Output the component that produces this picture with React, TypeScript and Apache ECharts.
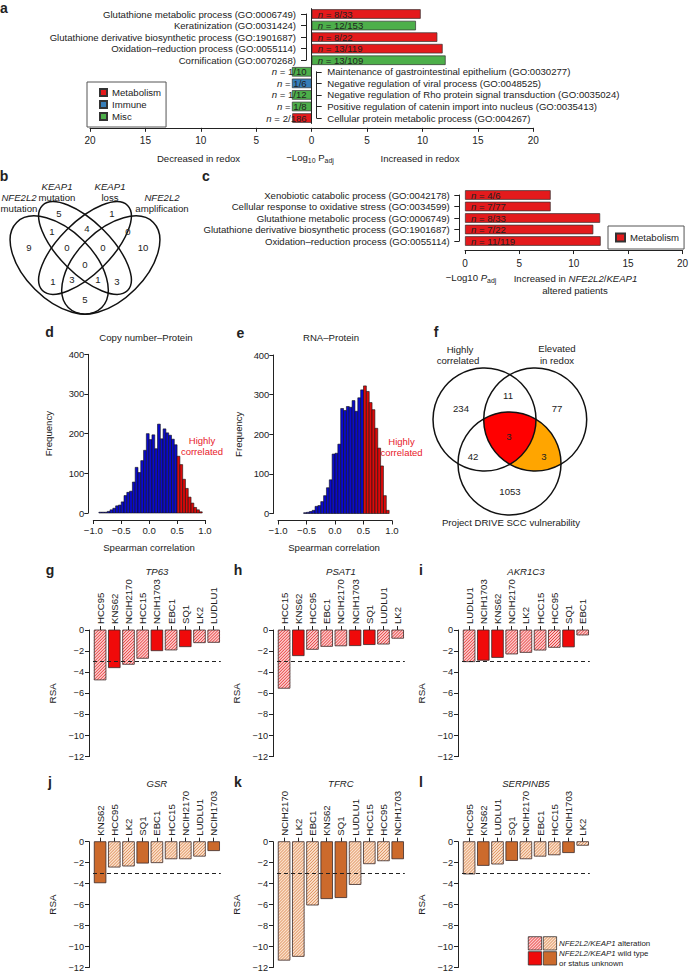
import React, { useEffect, useRef } from 'react';
import * as echarts from 'echarts';

const FONT = '"Liberation Sans", Arial, Helvetica, sans-serif';
const INK = '#222222';

// ---------- Panel a ----------
const aUpTerms = [
  'Glutathione metabolic process (GO:0006749)',
  'Keratinization (GO:0031424)',
  'Glutathione derivative biosynthetic process (GO:1901687)',
  'Oxidation\u2013reduction process (GO:0055114)',
  'Cornification (GO:0070268)',
];
const aUpValues = [9.84, 9.41, 11.34, 11.82, 12.09];
const aUpCounts = ['8/33', '12/153', '8/22', '13/119', '13/109'];
const aUpClass = ['Metabolism', 'Misc', 'Metabolism', 'Metabolism', 'Misc'];
const aDownTerms = [
  'Maintenance of gastrointestinal epithelium (GO:0030277)',
  'Negative regulation of viral process (GO:0048525)',
  'Negative regulation of Rho protein signal transduction (GO:0035024)',
  'Positive regulation of catenin import into nucleus (GO:0035413)',
  'Cellular protein metabolic process (GO:004267)',
];
const aDownValues = [-1.78, -1.78, -1.78, -1.78, -1.75];
const aDownCounts = ['1/10', '1/6', '1/12', '1/8', '2/186'];
const aDownClass = ['Misc', 'Immune', 'Misc', 'Misc', 'Metabolism'];
const goClasses = ['Metabolism', 'Immune', 'Misc'];
const goColors = ['#E41A1C', '#377EB8', '#4DAF4A'];

// ---------- Panel b ----------
const vennBSetGenes = ['NFE2L2', 'KEAP1', 'KEAP1', 'NFE2L2'];
const vennBSetKinds = ['mutation', 'mutation', 'loss', 'amplification'];
const vennBCounts = [9, 5, 1, 10, 1, 4, 0, 0, 0, 0, 1, 3, 1, 3, 5];

// ---------- Panel c ----------
const cTerms = [
  'Xenobiotic catabolic process (GO:0042178)',
  'Cellular response to oxidative stress (GO:0034599)',
  'Glutathione metabolic process (GO:0006749)',
  'Glutathione derivative biosynthetic process (GO:1901687)',
  'Oxidation\u2013reduction process (GO:0055114)',
];
const cValues = [7.88, 7.88, 12.43, 11.8, 12.48];
const cCounts = ['4/6', '7/77', '8/33', '7/22', '11/119'];

// ---------- Panels d, e ----------
const histBinWidth = 0.05;
const highCorrThreshold = 0.5;
const dBinStarts = [-0.9, -0.85, -0.8, -0.75, -0.7, -0.65, -0.6, -0.55, -0.5, -0.45, -0.4, -0.35, -0.3, -0.25, -0.2, -0.15, -0.1, -0.05, 0, 0.05, 0.1, 0.15, 0.2, 0.25, 0.3, 0.35, 0.4, 0.45, 0.5, 0.55, 0.6, 0.65, 0.7, 0.75, 0.8, 0.85, 0.9];
const dCounts = [2, 2, 2, 4, 8, 12, 18, 20, 28, 44, 52, 55, 78, 115, 102, 132, 158, 200, 185, 197, 162, 224, 187, 212, 202, 196, 186, 172, 143, 122, 85, 62, 40, 25, 14, 8, 3];
const eBinStarts = [-0.55, -0.5, -0.45, -0.4, -0.35, -0.3, -0.25, -0.2, -0.15, -0.1, -0.05, 0, 0.05, 0.1, 0.15, 0.2, 0.25, 0.3, 0.35, 0.4, 0.45, 0.5, 0.55, 0.6, 0.65, 0.7, 0.75, 0.8, 0.85, 0.9];
const eCounts = [2, 3, 5, 8, 18, 20, 30, 45, 65, 85, 150, 152, 175, 265, 260, 270, 268, 285, 258, 292, 312, 322, 308, 280, 262, 215, 165, 120, 45, 8];

// ---------- Panel f ----------
const vennFSetLines = [['Highly', 'correlated'], ['Elevated', 'in redox'], ['Project DRIVE SCC vulnerability']];
const vennFCounts = [234, 11, 77, 3, 42, 3, 1053];

// ---------- Panels g-l ----------
const alteredLines = ['HCC95', 'NCIH2170', 'HCC15', 'EBC1', 'LK2', 'LUDLU1'];
const rsaThreshold = -3;
const gLines = ['HCC95', 'KNS62', 'NCIH2170', 'HCC15', 'NCIH1703', 'EBC1', 'SQ1', 'LK2', 'LUDLU1'];
const gRSA = [-4.73, -3.57, -3.25, -2.68, -1.96, -1.89, -1.58, -1.2, -1.17];
const hLines = ['HCC15', 'KNS62', 'HCC95', 'EBC1', 'NCIH2170', 'NCIH1703', 'SQ1', 'LUDLU1', 'LK2'];
const hRSA = [-5.52, -2.43, -1.83, -1.55, -1.5, -1.48, -1.38, -1.33, -0.78];
const iLines = ['LUDLU1', 'NCIH1703', 'KNS62', 'NCIH2170', 'LK2', 'HCC15', 'HCC95', 'SQ1', 'EBC1'];
const iRSA = [-3.0, -2.87, -2.6, -2.27, -2.12, -1.9, -1.64, -1.6, -0.47];
const jLines = ['KNS62', 'HCC95', 'LK2', 'SQ1', 'EBC1', 'HCC15', 'NCIH2170', 'LUDLU1', 'NCIH1703'];
const jRSA = [-3.92, -2.42, -2.32, -2.04, -2.0, -1.63, -1.63, -1.38, -0.85];
const kLines = ['NCIH2170', 'LK2', 'EBC1', 'KNS62', 'SQ1', 'LUDLU1', 'HCC15', 'HCC95', 'NCIH1703'];
const kRSA = [-11.3, -10.94, -6.04, -5.43, -5.33, -4.08, -2.1, -1.82, -1.63];
const lLines = ['HCC95', 'KNS62', 'LUDLU1', 'SQ1', 'NCIH2170', 'EBC1', 'HCC15', 'NCIH1703', 'LK2'];
const lRSA = [-3.08, -2.26, -2.13, -1.79, -1.63, -1.38, -1.25, -1.04, -0.34];

// ---------- styles ----------
const FAM: any = {
  red: { solid: '#F00A0A', hatchBg: '#FBCACA', hatchLine: '#E42A2A' },
  orange: { solid: '#CC6A2C', hatchBg: '#FBE0CB', hatchLine: '#D8844C' },
};
const HIST_BLUE = '#0A0ACC';
const HIST_RED = '#DD0A0A';
const HATCH_STEP = 3;
const FS = 9.6;

function minusFmt(v: number, digits = 0) {
  const s = Math.abs(v).toFixed(digits);
  return v < 0 ? '\u2212' + s : s;
}
const axisLine = { show: true, onZero: false, lineStyle: { color: INK, width: 1 } };
const axisTick = (length: number) => ({ show: true, length, interval: 0, lineStyle: { color: INK, width: 1 } });
const lbl = (extra: any = {}) => ({ color: INK, fontSize: FS, fontFamily: FONT, ...extra });

function txt(x: number, y: number, text: string, o: any = {}) {
  const align = o.align || 'center';
  const valign = o.valign || 'middle';
  return {
    type: 'text', x, y, rotation: o.rotation || 0, silent: true,
    style: {
      text, fill: o.color || INK, fontSize: o.size || FS, fontFamily: FONT,
      fontStyle: o.italic ? 'italic' : 'normal', fontWeight: o.bold ? 'bold' : 'normal',
      align, verticalAlign: valign, textAlign: align, textVerticalAlign: valign,
      rich: o.rich,
    },
  };
}
const richDefs = (size: number) => ({
  it: { fontStyle: 'italic', fontSize: size, fontFamily: FONT, fill: INK, color: INK },
  sub: { fontSize: size * 0.72, fontFamily: FONT, padding: [6, 0, 0, 0], fill: INK, color: INK },
  itsub: { fontSize: size, fontStyle: 'italic', fontFamily: FONT, fill: INK, color: INK },
});

type Circ = { x: number; y: number; r: number };
function intersectionPolygon(cs: Circ[]): number[][] {
  const pts: number[][] = [];
  const N = 900;
  cs.forEach((c) => {
    for (let k = 0; k < N; k++) {
      const t = (2 * Math.PI * k) / N;
      const p = [c.x + c.r * Math.cos(t), c.y + c.r * Math.sin(t)];
      if (cs.every((o) => Math.hypot(p[0] - o.x, p[1] - o.y) <= o.r + 1e-6)) pts.push(p);
    }
  });
  const mx = pts.reduce((s, p) => s + p[0], 0) / pts.length;
  const my = pts.reduce((s, p) => s + p[1], 0) / pts.length;
  pts.sort((p, q) => Math.atan2(p[1] - my, p[0] - mx) - Math.atan2(q[1] - my, q[0] - mx));
  return pts;
}

// diagonal "////" hatch lines clipped to a rectangle
function hatchLines(x0: number, y0: number, w: number, h: number, color: string) {
  const out: any[] = [];
  for (let t = HATCH_STEP / 2; t < w + h; t += HATCH_STEP) {
    const u1 = Math.max(0, t - h);
    const u2 = Math.min(w, t);
    if (u2 <= u1) continue;
    out.push({
      type: 'line',
      shape: { x1: x0 + u1, y1: y0 + (t - u1), x2: x0 + u2, y2: y0 + (t - u2) },
      style: { stroke: color, lineWidth: 0.9 },
      silent: true,
    });
  }
  return out;
}

function hatchSwatch(x0: number, y0: number, s: number, bg: string, line: string) {
  return [
    { type: 'rect', shape: { x: x0, y: y0, width: s, height: s }, style: { fill: bg, stroke: 'none' }, silent: true },
    ...hatchLines(x0, y0, s, s, line),
    { type: 'rect', shape: { x: x0, y: y0, width: s, height: s }, style: { fill: 'none', stroke: '#333', lineWidth: 0.8 }, silent: true },
  ];
}

function buildOption() {
  const grids: any[] = [];
  const xAxes: any[] = [];
  const yAxes: any[] = [];
  const series: any[] = [];
  const graphic: any[] = [];

  // ---- a: bars grid (0)
  const aTerms = [...aUpTerms, ...aDownTerms];
  const aValues = [...aUpValues, ...aDownValues];
  const aCounts = [...aUpCounts, ...aDownCounts];
  const aClass = [...aUpClass, ...aDownClass];
  grids.push({ left: 90, top: 8.22, width: 443.3, height: 115.6 });
  xAxes.push({
    gridIndex: 0, type: 'value', min: -20, max: 20, interval: 5, offset: 4,
    axisLine, axisTick: axisTick(4), splitLine: { show: false },
    axisLabel: lbl({ margin: 8, fontSize: 10, formatter: (v: number) => String(Math.abs(v)) }),
  });
  yAxes.push({ gridIndex: 0, type: 'category', data: aTerms, inverse: true, show: false });
  const nLabel = (counts: string[], fs: number) => ({
    show: true, fontSize: fs, color: INK, fontFamily: FONT,
    formatter: (p: any) => `{i|n} = ${counts[p.dataIndex]}`,
    rich: { i: { fontStyle: 'italic', fontSize: fs, fontFamily: FONT, color: INK } },
  });
  goClasses.forEach((cls, ci) => {
    series.push({
      name: cls, type: 'bar', xAxisIndex: 0, yAxisIndex: 0, barWidth: 9.5, barGap: '-100%',
      itemStyle: { color: goColors[ci], borderColor: '#333', borderWidth: 0.7 },
      label: nLabel(aCounts, FS),
      data: aValues.map((v, i) =>
        aClass[i] === cls
          ? { value: v, label: { position: v >= 0 ? 'insideLeft' : 'insideRight', distance: v >= 0 ? 6 : 5 } }
          : '-'
      ),
      markLine: ci === 0
        ? { silent: true, symbol: 'none', label: { show: false }, lineStyle: { color: INK, width: 1, type: 'solid' }, data: [{ xAxis: 0 }] }
        : undefined,
    });
  });

  // ---- a: bracket label grids (1, 2)
  grids.push({ left: 311.7, top: 14, width: 40, height: 46.24 });
  xAxes.push({ gridIndex: 1, type: 'value', min: 0, max: 1, show: false });
  yAxes.push({
    gridIndex: 1, type: 'category', data: aUpTerms, inverse: true, boundaryGap: false, position: 'left', offset: 5.7,
    axisLine, axisTick: axisTick(5), axisLabel: lbl({ margin: 10, interval: 0 }),
  });
  grids.push({ left: 90, top: 71.8, width: 221.7, height: 46.24 });
  xAxes.push({ gridIndex: 2, type: 'value', min: 0, max: 1, show: false });
  yAxes.push({
    gridIndex: 2, type: 'category', data: aDownTerms, inverse: true, boundaryGap: false, position: 'right', offset: 5,
    axisLine, axisTick: axisTick(5), axisLabel: lbl({ margin: 10.5, interval: 0 }),
  });

  // ---- c: bars grid (3) and label grid (4)
  grids.push({ left: 465, top: 189.25, width: 221.7, height: 57.5 });
  xAxes.push({
    gridIndex: 3, type: 'value', min: 0, max: 20, interval: 5, offset: 3.3,
    axisLine, axisTick: axisTick(4), splitLine: { show: false }, axisLabel: lbl({ margin: 8, fontSize: 10 }),
  });
  yAxes.push({ gridIndex: 3, type: 'category', data: cTerms, inverse: true, show: false });
  series.push({
    name: 'Metabolism', type: 'bar', xAxisIndex: 3, yAxisIndex: 3, barWidth: 9.5,
    itemStyle: { color: goColors[0], borderColor: '#333', borderWidth: 0.7 },
    label: { ...nLabel(cCounts, FS), position: 'insideLeft', distance: 6 },
    data: cValues,
  });
  grids.push({ left: 465, top: 195, width: 40, height: 46 });
  xAxes.push({ gridIndex: 4, type: 'value', min: 0, max: 1, show: false });
  yAxes.push({
    gridIndex: 4, type: 'category', data: cTerms, inverse: true, boundaryGap: false, position: 'left', offset: 5.7,
    axisLine, axisTick: axisTick(5), axisLabel: lbl({ margin: 9.5, interval: 0 }),
  });

  // ---- d, e histograms (5, 6)
  const hist = (gi: number, rect: any, yOffset: number, nameGap: number, starts: number[], counts: number[]) => {
    grids.push(rect);
    xAxes.push({
      gridIndex: gi, type: 'value', min: -1, max: 1, interval: 0.5, offset: 7,
      axisLine, axisTick: axisTick(4), splitLine: { show: false },
      axisLabel: lbl({ margin: 5, fontSize: 9.6, formatter: (v: number) => minusFmt(v, 1) }),
    });
    yAxes.push({
      gridIndex: gi, type: 'value', min: 0, max: 400, interval: 100, offset: yOffset,
      axisLine, axisTick: axisTick(4), splitLine: { show: false },
      axisLabel: lbl({ margin: 4, fontSize: 9.4 }),
      name: 'Frequency', nameLocation: 'middle', nameGap, nameRotate: 90, nameTextStyle: lbl({}),
    });
    series.push({
      type: 'custom', xAxisIndex: gi, yAxisIndex: gi,
      data: starts.map((s, i) => [s, counts[i]]),
      renderItem: (_p: any, api: any) => {
        const s = api.value(0);
        const v = api.value(1);
        const a = api.coord([s, v]);
        const b = api.coord([s + histBinWidth, 0]);
        return {
          type: 'rect',
          shape: { x: a[0], y: a[1], width: b[0] - a[0], height: b[1] - a[1] },
          style: { fill: s >= highCorrThreshold - 1e-9 ? HIST_RED : HIST_BLUE, stroke: '#111', lineWidth: 0.6 },
        };
      },
    });
  };
  hist(5, { left: 93.3, top: 354.3, width: 111.7, height: 158.7 }, 5, 35, dBinStarts, dCounts);
  hist(6, { left: 278, top: 355, width: 114, height: 158.5 }, 4.7, 30, eBinStarts, eCounts);

  // ---- g-l
  const rsaPanels = [
    { letter: 'g', gene: 'TP63', lines: gLines, values: gRSA, fam: 'red' },
    { letter: 'h', gene: 'PSAT1', lines: hLines, values: hRSA, fam: 'red' },
    { letter: 'i', gene: 'AKR1C3', lines: iLines, values: iRSA, fam: 'red' },
    { letter: 'j', gene: 'GSR', lines: jLines, values: jRSA, fam: 'orange' },
    { letter: 'k', gene: 'TFRC', lines: kLines, values: kRSA, fam: 'orange' },
    { letter: 'l', gene: 'SERPINB5', lines: lLines, values: lRSA, fam: 'orange' },
  ];
  const RSA_AXIS_X = [89, 273, 458];
  const RSA_TOP = [630, 841.7];
  const RSA_LETTER_X = [50, 238, 421];
  const RSA_TITLE_Y = [571, 783];
  rsaPanels.forEach((p, k) => {
    const gi = grids.length;
    const col = k % 3;
    const row = Math.floor(k / 3);
    const ax = RSA_AXIS_X[col];
    const top = RSA_TOP[row];
    grids.push({ left: ax + 4, top, width: 127.8, height: 126.6 });
    xAxes.push({
      gridIndex: gi, type: 'category', data: p.lines, position: 'top',
      axisLine: { show: false },
      axisTick: { show: true, alignWithLabel: true, length: 4, interval: 0, lineStyle: { color: INK } },
      axisLabel: lbl({ rotate: 90, margin: 6, interval: 0 }),
    });
    yAxes.push({
      gridIndex: gi, type: 'value', min: -12, max: 0, interval: 2, offset: 4,
      axisLine, axisTick: axisTick(4), splitLine: { show: false },
      axisLabel: lbl({ margin: 5, fontSize: 9.2, formatter: (v: number) => minusFmt(v) }),
      name: 'RSA', nameLocation: 'middle', nameGap: 32, nameRotate: 90, nameTextStyle: lbl({ fontSize: 9.8 }),
    });
    const fam = FAM[p.fam];
    series.push({
      type: 'custom', xAxisIndex: gi, yAxisIndex: gi,
      data: p.values.map((v, i) => [i, v, alteredLines.includes(p.lines[i]) ? 1 : 0]),
      renderItem: (_params: any, api: any) => {
        const idx = api.value(0);
        const v = api.value(1);
        const alt = api.value(2) === 1;
        const p0 = api.coord([idx, 0]);
        const p1 = api.coord([idx, v]);
        const bw = api.size([1, 0])[0] * 0.82;
        const x0 = p0[0] - bw / 2;
        const y0 = Math.min(p0[1], p1[1]);
        const h = Math.abs(p1[1] - p0[1]);
        const children: any[] = [
          { type: 'rect', shape: { x: x0, y: y0, width: bw, height: h }, style: { fill: alt ? fam.hatchBg : fam.solid } },
        ];
        if (alt) children.push(...hatchLines(x0, y0, bw, h, fam.hatchLine));
        children.push({ type: 'rect', shape: { x: x0, y: y0, width: bw, height: h }, style: { fill: 'none', stroke: '#3a2a2a', lineWidth: 0.8 } });
        return { type: 'group', children };
      },
    });
    series.push({
      type: 'line', xAxisIndex: gi, yAxisIndex: gi, data: [], silent: true,
      markLine: {
        silent: true, symbol: 'none', label: { show: false },
        lineStyle: { color: INK, width: 1, type: [4, 3] },
        data: [{ yAxis: rsaThreshold }],
      },
    });
    graphic.push(txt(RSA_LETTER_X[col], RSA_TITLE_Y[row] - 1, p.letter, { size: 14, bold: true }));
    graphic.push(txt(ax + 4 + 63.9, RSA_TITLE_Y[row], p.gene, { size: FS, italic: true }));
  });

  // ---- texts panel a
  graphic.push(txt(4, 8, 'a', { size: 14, bold: true }));
  graphic.push(txt(198.5, 158, 'Decreased in redox', { size: FS }));
  graphic.push(txt(420, 158, 'Increased in redox', { size: FS }));
  graphic.push(txt(310, 157, '\u2212Log{sub|10} P{sub|adj}', { size: FS, rich: richDefs(FS) }));

  // ---- panel b
  graphic.push(txt(4, 176, 'b', { size: 14, bold: true }));
  const bEll = [
    { cx: 59.2, cy: 265, rx: 60.2, ry: 34.4, rot: -Math.PI / 4 },
    { cx: 85, cy: 248, rx: 60.2, ry: 25.8, rot: -Math.PI / 4 },
    { cx: 85, cy: 248, rx: 60.2, ry: 25.8, rot: Math.PI / 4 },
    { cx: 110.8, cy: 265, rx: 60.2, ry: 34.4, rot: Math.PI / 4 },
  ];
  bEll.forEach((e) =>
    graphic.push({
      type: 'ellipse', x: e.cx, y: e.cy, rotation: e.rot, silent: true,
      shape: { cx: 0, cy: 0, rx: e.rx, ry: e.ry },
      style: { fill: 'none', stroke: '#111', lineWidth: 1.5 },
    })
  );
  const bLabelPos = [[19, 197, 208.5], [57, 186, 197.5], [110, 186, 197.5], [162, 197, 208.5]];
  vennBSetGenes.forEach((g, i) => {
    graphic.push(txt(bLabelPos[i][0], bLabelPos[i][1], g, { size: FS, italic: true }));
    graphic.push(txt(bLabelPos[i][0], bLabelPos[i][2], vennBSetKinds[i], { size: FS }));
  });
  const bNumPos = [[29, 247], [59, 213], [112, 213], [143, 247], [52, 231], [87, 228], [128, 231], [67, 247], [103, 247], [85, 264], [53, 281], [72, 279], [98, 279], [117, 281], [85, 299]];
  vennBCounts.forEach((n, i) => graphic.push(txt(bNumPos[i][0], bNumPos[i][1], String(n), { size: FS })));

  // ---- panel c texts
  graphic.push(txt(206, 176, 'c', { size: 14, bold: true }));
  graphic.push(txt(471, 277, '\u2212Log10 {itsub|P}{sub|adj}', { size: FS, rich: richDefs(FS) }));
  graphic.push(txt(575.5, 278, 'Increased in {it|NFE2L2}/{it|KEAP1}', { size: FS, rich: richDefs(FS) }));
  graphic.push(txt(575, 290, 'altered patients', { size: FS }));

  // ---- d, e texts
  graphic.push(txt(49.5, 332, 'd', { size: 14, bold: true }));
  graphic.push(txt(240.5, 333, 'e', { size: 14, bold: true }));
  graphic.push(txt(146, 337, 'Copy number\u2013Protein', { size: FS }));
  graphic.push(txt(331, 337, 'RNA\u2013Protein', { size: FS }));
  graphic.push(txt(149, 547, 'Spearman correlation', { size: FS }));
  graphic.push(txt(334, 547, 'Spearman correlation', { size: FS }));
  graphic.push(txt(202, 440, 'Highly', { size: 9.5, color: '#E8202A' }));
  graphic.push(txt(202, 451.5, 'correlated', { size: 9.5, color: '#E8202A' }));
  graphic.push(txt(401.5, 441, 'Highly', { size: 9.5, color: '#E8202A' }));
  graphic.push(txt(401.5, 452.5, 'correlated', { size: 9.5, color: '#E8202A' }));

  // ---- f venn
  graphic.push(txt(436, 332, 'f', { size: 14, bold: true }));
  const fC: Circ[] = [
    { x: 484.5, y: 419.5, r: 51.5 },
    { x: 535.2, y: 419.5, r: 51.5 },
    { x: 509.5, y: 463.5, r: 51.5 },
  ];
  graphic.push({ type: 'polygon', silent: true, shape: { points: intersectionPolygon([fC[1], fC[2]]) }, style: { fill: '#FFA500', stroke: 'none' } });
  graphic.push({ type: 'polygon', silent: true, shape: { points: intersectionPolygon(fC) }, style: { fill: '#FF0000', stroke: 'none' } });
  fC.forEach((c) =>
    graphic.push({ type: 'circle', silent: true, shape: { cx: c.x, cy: c.y, r: c.r }, style: { fill: 'none', stroke: '#111', lineWidth: 1.5 } })
  );
  graphic.push(txt(460, 349, vennFSetLines[0][0], { size: FS }));
  graphic.push(txt(458, 360.5, vennFSetLines[0][1], { size: FS }));
  graphic.push(txt(557, 348.5, vennFSetLines[1][0], { size: FS }));
  graphic.push(txt(557, 360, vennFSetLines[1][1], { size: FS }));
  graphic.push(txt(511, 522, vennFSetLines[2][0], { size: FS }));
  const fNumPos = [[461, 408], [508, 395], [557, 408], [509, 436], [473, 456], [544, 456], [510, 491]];
  vennFCounts.forEach((n, i) => graphic.push(txt(fNumPos[i][0], fNumPos[i][1], String(n), { size: FS })));

  // ---- g-l legend
  const sw = 13.3;
  const LFS = 7.9;
  graphic.push(...hatchSwatch(528.3, 936.7, sw, FAM.red.hatchBg, FAM.red.hatchLine));
  graphic.push(...hatchSwatch(543.3, 936.7, sw, FAM.orange.hatchBg, FAM.orange.hatchLine));
  graphic.push({ type: 'rect', silent: true, shape: { x: 528.3, y: 951.7, width: sw, height: sw }, style: { fill: FAM.red.solid, stroke: '#333', lineWidth: 0.8 } });
  graphic.push({ type: 'rect', silent: true, shape: { x: 543.3, y: 951.7, width: sw, height: sw }, style: { fill: FAM.orange.solid, stroke: '#333', lineWidth: 0.8 } });
  graphic.push(txt(559, 943.3, '{it|NFE2L2/KEAP1} alteration', { size: LFS, align: 'left', rich: richDefs(LFS) }));
  graphic.push(txt(559, 953.5, '{it|NFE2L2/KEAP1} wild type', { size: LFS, align: 'left', rich: richDefs(LFS) }));
  graphic.push(txt(559, 963.3, 'or status unknown', { size: LFS, align: 'left' }));

  return {
    animation: false,
    backgroundColor: '#ffffff',
    textStyle: { fontFamily: FONT },
    grid: grids,
    xAxis: xAxes,
    yAxis: yAxes,
    series,
    graphic: { elements: graphic },
    legend: [
      {
        data: goClasses, orient: 'vertical', left: 87, top: 82, itemWidth: 7, itemHeight: 7, itemGap: 1,
        padding: [5, 5, 5, 12], borderColor: '#555', borderWidth: 1, icon: 'rect', selectedMode: false,
        textStyle: { fontSize: FS, color: INK, fontFamily: FONT, lineHeight: 11 },
      },
      {
        data: ['Metabolism'], orient: 'vertical', left: 608, top: 226, itemWidth: 9, itemHeight: 8,
        padding: [6, 5, 6, 7], borderColor: '#555', borderWidth: 1, icon: 'rect', selectedMode: false,
        textStyle: { fontSize: FS, color: INK, fontFamily: FONT, lineHeight: 11 },
      },
    ],
  };
}

export default function App() {
  const ref = useRef<HTMLDivElement>(null);
  useEffect(() => {
    const chart = echarts.init(ref.current!, null, { renderer: 'svg' });
    chart.setOption(buildOption() as any);
    return () => chart.dispose();
  }, []);
  return (
    <div
      ref={ref}
      style={{ position: 'fixed', left: 0, top: 0, width: 691, height: 972, background: '#fff' }}
    />
  );
}
